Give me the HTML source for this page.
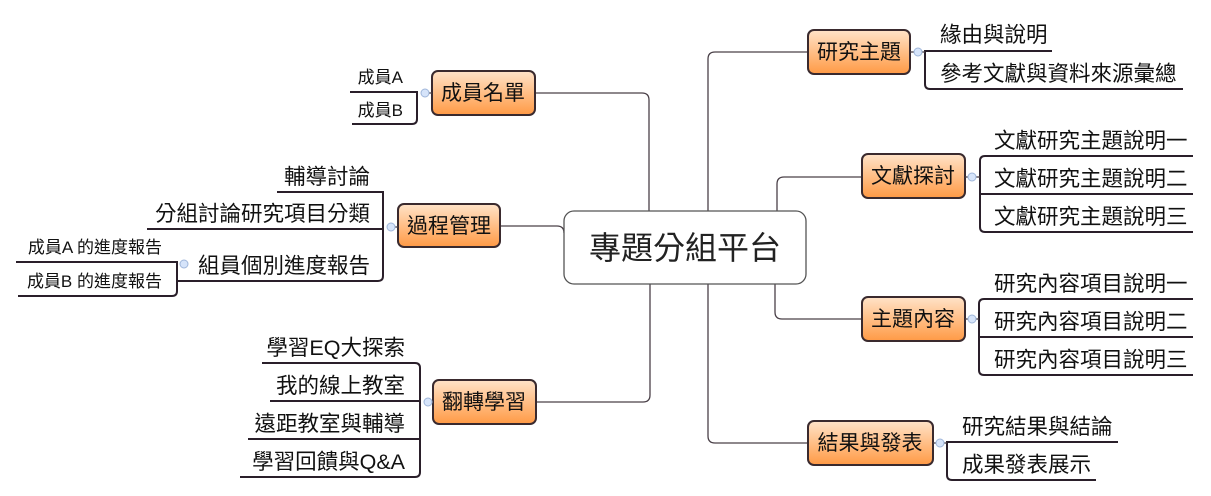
<!DOCTYPE html>
<html><head><meta charset="utf-8"><style>
html,body{margin:0;padding:0;background:#fff;}
svg{display:block;font-family:"Liberation Sans","Noto Sans CJK TC",sans-serif;}
.c{fill:none;stroke:#4a4048;stroke-width:1.3;}
.u{fill:none;stroke:#2a1f2a;stroke-width:2;}
.n{fill:url(#g);stroke:#3a2a2e;stroke-width:2;}
.nt{font-size:21px;fill:#111;text-anchor:middle;}
.t{font-size:21.5px;fill:#111;}
.s{font-size:17px;fill:#111;}
.d{fill:#d6e4fa;stroke:#9fb6da;stroke-width:1;}
</style></head><body>
<svg width="1211" height="496" viewBox="0 0 1211 496">
<defs><linearGradient id="g" x1="0" y1="0" x2="0" y2="1"><stop offset="0" stop-color="#ffe3c8"/><stop offset="1" stop-color="#ff9a45"/></linearGradient></defs>

<path class="c" d="M535,93 H642 Q649,93 649,100 V211"/>
<path class="c" d="M500,226 H557 Q564,226 564,233"/>
<path class="c" d="M808,52 H715 Q708,52 708,59 V211"/>
<path class="c" d="M862,177 H784 Q777,177 777,184 V211"/>
<path class="c" d="M775,284 V312 Q775,319 782,319 H862"/>
<path class="c" d="M708,284 V436 Q708,443 715,443 H808"/>
<path class="c" d="M650,284 V395 Q650,402 643,402 H536"/>

<rect x="564" y="211" width="242" height="73" rx="10" fill="#fff" stroke="#555" stroke-width="1.3"/>
<text x="685" y="259" font-size="32" text-anchor="middle" fill="#222">專題分組平台</text>

<rect class="n" x="432" y="71" width="103" height="44" rx="6"/><text class="nt" x="483" y="100">成員名單</text>
<rect class="n" x="398" y="204" width="102" height="43" rx="6"/><text class="nt" x="449" y="233">過程管理</text>
<rect class="n" x="433" y="380" width="103" height="44" rx="6"/><text class="nt" x="484" y="409">翻轉學習</text>
<rect class="n" x="808" y="30" width="102" height="44" rx="6"/><text class="nt" x="859" y="59">研究主題</text>
<rect class="n" x="862" y="154" width="103" height="44" rx="6"/><text class="nt" x="913" y="183">文獻探討</text>
<rect class="n" x="862" y="297" width="103" height="44" rx="6"/><text class="nt" x="913" y="326">主題內容</text>
<rect class="n" x="808" y="421" width="125" height="44" rx="6"/><text class="nt" x="870" y="450">結果與發表</text>

<path class="u" d="M350,92 H417 V119 Q417,124 412,124 H352"/>
<line class="c" x1="421" y1="93" x2="432" y2="93"/>
<circle class="d" cx="425" cy="93" r="4"/>
<text class="s" x="403" y="83" text-anchor="end">成員A</text>
<text class="s" x="403" y="116" text-anchor="end">成員B</text>

<path class="u" d="M277,192 H383 V276 Q383,281 378,281 H177"/>
<path class="u" d="M147,229 H383"/>
<line class="c" x1="387" y1="227" x2="398" y2="227"/>
<circle class="d" cx="391" cy="227" r="4"/>
<text class="t" x="370" y="184" text-anchor="end">輔導討論</text>
<text class="t" x="370" y="221" text-anchor="end">分組討論研究項目分類</text>
<text class="t" x="370" y="273" text-anchor="end">組員個別進度報告</text>
<path class="u" d="M16,262 H177 V291 Q177,296 172,296 H18"/>
<circle class="d" cx="184" cy="264" r="4"/>
<text class="s" x="162" y="253" text-anchor="end">成員A 的進度報告</text>
<text class="s" x="162" y="287" text-anchor="end">成員B 的進度報告</text>

<path class="u" d="M262,363 H415 Q420,363 420,368 V472 Q420,477 415,477 H240"/>
<path class="u" d="M270,401 H420"/>
<path class="u" d="M248,439 H420"/>
<line class="c" x1="424" y1="402" x2="433" y2="402"/>
<circle class="d" cx="428" cy="402" r="4"/>
<text class="t" x="405" y="355" text-anchor="end">學習EQ大探索</text>
<text class="t" x="405" y="393" text-anchor="end">我的線上教室</text>
<text class="t" x="405" y="431" text-anchor="end">遠距教室與輔導</text>
<text class="t" x="405" y="469" text-anchor="end">學習回饋與Q&amp;A</text>

<path class="u" d="M1052,51 H925 V84 Q925,89 930,89 H1183"/>
<line class="c" x1="910" y1="52" x2="925" y2="52"/>
<circle class="d" cx="918" cy="52" r="4"/>
<text class="t" x="940" y="42">緣由與說明</text>
<text class="t" x="940" y="81">參考文獻與資料來源彙總</text>

<path class="u" d="M1193,156 H985 Q980,156 980,161 V227 Q980,232 985,232 H1193"/>
<path class="u" d="M980,194 H1193"/>
<line class="c" x1="965" y1="177" x2="980" y2="177"/>
<circle class="d" cx="972" cy="177" r="4"/>
<text class="t" x="994" y="148">文獻研究主題說明一</text>
<text class="t" x="994" y="186">文獻研究主題說明二</text>
<text class="t" x="994" y="224">文獻研究主題說明三</text>

<path class="u" d="M1193,299 H984 Q979,299 979,304 V370 Q979,375 984,375 H1193"/>
<path class="u" d="M979,337 H1193"/>
<line class="c" x1="965" y1="319" x2="979" y2="319"/>
<circle class="d" cx="972" cy="319" r="4"/>
<text class="t" x="994" y="291">研究內容項目說明一</text>
<text class="t" x="994" y="329">研究內容項目說明二</text>
<text class="t" x="994" y="367">研究內容項目說明三</text>

<path class="u" d="M1118,442 H947 V475 Q947,480 952,480 H1096"/>
<line class="c" x1="933" y1="443" x2="947" y2="443"/>
<circle class="d" cx="940" cy="443" r="4"/>
<text class="t" x="962" y="434">研究結果與結論</text>
<text class="t" x="962" y="472">成果發表展示</text>
</svg>
</body></html>
